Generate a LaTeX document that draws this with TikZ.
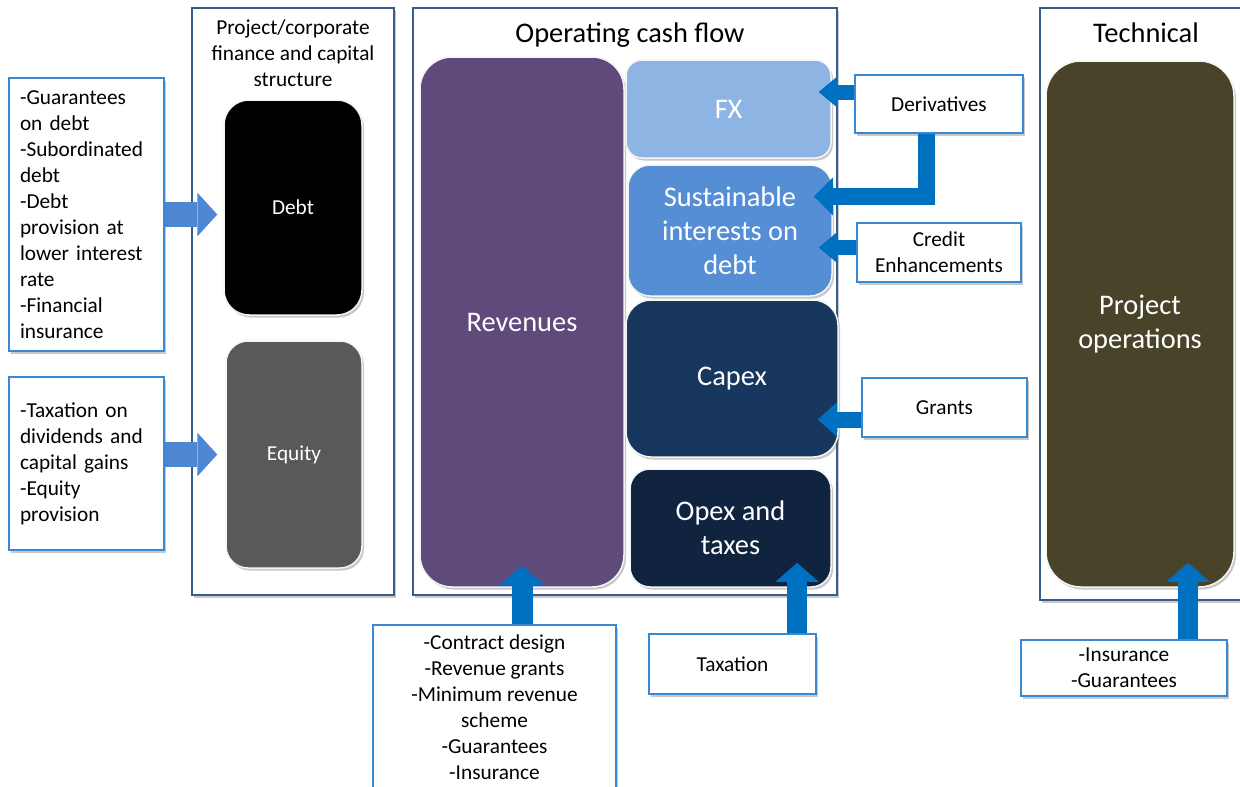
\documentclass[tikz,border=0pt]{standalone}
\usepackage{fontspec}
\setmainfont{Carlito}
\usetikzlibrary{arrows.meta,shadows}
\definecolor{framec}{HTML}{385D8A}
\definecolor{boxc}{HTML}{3A87D6}
\definecolor{larr}{HTML}{4F86D4}
\definecolor{darr}{HTML}{0070C0}
\definecolor{revc}{HTML}{604A7B}
\definecolor{fxc}{HTML}{8EB4E3}
\definecolor{susc}{HTML}{558ED5}
\definecolor{capc}{HTML}{17375E}
\definecolor{opc}{HTML}{10243F}
\definecolor{projc}{HTML}{494429}
\definecolor{eqc}{HTML}{595959}
\newcommand\fsm{\fontsize{21.3pt}{26pt}\selectfont}
\newcommand\fbg{\fontsize{28.4pt}{34pt}\selectfont}
\begin{document}
\begin{tikzpicture}[x=1pt,y=-1pt,
  shd/.style={drop shadow={shadow xshift=2pt,shadow yshift=-2.5pt,opacity=0.3,fill=black!70}},
  frame/.style={draw=framec,line width=2pt,fill=white,shd,inner sep=0pt},
  tbox/.style={draw=boxc,line width=1.4pt,fill=white,shd,font=\fsm,inner sep=0pt,align=center},
  rbox/.style={draw=black!4,line width=1.5pt,shd,text=white,inner sep=0pt,align=center},
  ttl/.style={font=\fsm,align=center,inner sep=0pt},
  bigttl/.style={font=\fbg,align=center,inner sep=0pt},
  la/.style={draw=larr,line width=25pt,-{Triangle[width=44pt,length=20pt,line width=0pt]}},
  da/.style 2 args={draw=darr,line width=#1,line join=miter,-{Triangle[width=#2,length=19pt,line width=0pt]}}
]
\useasboundingbox (0,0) rectangle (1240,787);

% frames
\node[frame,minimum width=202pt,minimum height=587pt] (f1) at (293,301.5) {};
\node[frame,minimum width=424pt,minimum height=587pt] (f2) at (625,301.5) {};
\node[frame,minimum width=204pt,minimum height=592pt] (f3) at (1142,304) {};

\node[ttl] (t1) at (293,53.5) {Project/corporate\\finance and capital\\structure};
\node[bigttl] (t2) at (630,35) {Operating cash flow};
\node[bigttl] (t3) at (1146,33) {Technical};

% rounded blocks
\node[rbox,fill=black,rounded corners=25pt,minimum width=138pt,minimum height=215pt,font=\fsm] (debt) at (293,207.5) {Debt};
\node[rbox,fill=eqc,rounded corners=22pt,minimum width=136pt,minimum height=227pt,font=\fsm] (equity) at (294,454.5) {Equity};
\node[rbox,fill=revc,rounded corners=32pt,minimum width=204pt,minimum height=530pt,font=\fbg] (rev) at (522,322) {Revenues};
\node[rbox,fill=fxc,rounded corners=16pt,minimum width=205pt,minimum height=98pt,font=\fbg] (fx) at (728.5,109) {FX};
\node[rbox,fill=susc,rounded corners=22pt,minimum width=204pt,minimum height=131pt,font=\fbg] (sust) at (730,230.5) {Sustainable\\interests on\\debt};
\node[rbox,fill=capc,rounded corners=25pt,minimum width=212pt,minimum height=157pt,font=\fbg] (capex) at (732,378.5) {Capex};
\node[rbox,fill=opc,rounded corners=20pt,minimum width=201pt,minimum height=118pt,font=\fbg] (opex) at (730.5,528) {Opex and\\taxes};
\node[rbox,fill=projc,rounded corners=35pt,minimum width=188pt,minimum height=526pt,font=\fbg] (proj) at (1140,324) {Project\\operations};

% text boxes
\node[tbox,minimum width=155pt,minimum height=273pt,text width=133pt,align=left] (guar) at (86.5,214.5)
  {-Guarantees\\on debt\\-Subordinated\\debt\\-Debt\\provision at\\lower interest\\rate\\-Financial\\insurance};
\node[tbox,minimum width=155pt,minimum height=173pt,text width=133pt,align=left] (eqlist) at (86.5,463.5)
  {-Taxation on\\dividends and\\capital gains\\-Equity\\provision};
\node[tbox,minimum width=168pt,minimum height=58pt] (deriv) at (939,104) {Derivatives};
\node[tbox,minimum width=164pt,minimum height=59pt] (credit) at (939,252.5) {Credit\\Enhancements};
\node[tbox,minimum width=165pt,minimum height=59pt] (grants) at (944.5,407.5) {Grants};
\node[tbox,minimum width=243pt,minimum height=165pt] (revlist) at (494.5,707.5)
  {-Contract design\\-Revenue grants\\-Minimum revenue\\scheme\\-Guarantees\\-Insurance};
\node[tbox,minimum width=167pt,minimum height=60pt] (tax) at (732.5,664) {Taxation};
\node[tbox,minimum width=206pt,minimum height=56pt] (insl) at (1124,668) {-Insurance\\-Guarantees};

% left arrows
\draw[la] (guar.east) -- ([xshift=-6pt]debt.west |- guar.east);
\draw[la] (eqlist.east |- equity.west) -- ([xshift=-8pt]equity.west);

% right arrows
\coordinate (fxs) at ([yshift=12pt]deriv.west);
\path (fxs -| fx.east) coordinate (fxe);
\draw[da={15pt}{32pt}] (fxs) -- ([xshift=-13pt]fxe);

\coordinate (dvs) at ([xshift=-12.5pt]deriv.south);
\coordinate (sue) at ([xshift=-19pt,yshift=34pt]sust.east);
\draw[da={17pt}{38pt}] (dvs) |- (sue);

\coordinate (crs) at ([yshift=5pt]credit.west);
\path (crs -| sust.east) coordinate (cre);
\draw[da={15pt}{32pt}] (crs) -- ([xshift=-14pt]cre);

\coordinate (grs) at ([yshift=-12pt]grants.west);
\path (grs -| capex.east) coordinate (gre);
\draw[da={16pt}{34pt}] (grs) -- ([xshift=-21pt]gre);

% bottom arrows
\coordinate (rls) at ([xshift=27.5pt]revlist.north);
\path (rls |- rev.south) coordinate (rle);
\draw[da={21pt}{44pt}] (rls) -- ([yshift=22pt]rle);

\coordinate (txs) at ([xshift=64.5pt]tax.north);
\path (txs |- opex.south) coordinate (txe);
\draw[da={20pt}{43pt}] (txs) -- ([yshift=25pt]txe);

\coordinate (ins) at ([xshift=64pt]insl.north);
\path (ins |- proj.south) coordinate (ine);
\draw[da={20pt}{43pt}] (ins) -- ([yshift=25pt]ine);
\end{tikzpicture}
\end{document}
